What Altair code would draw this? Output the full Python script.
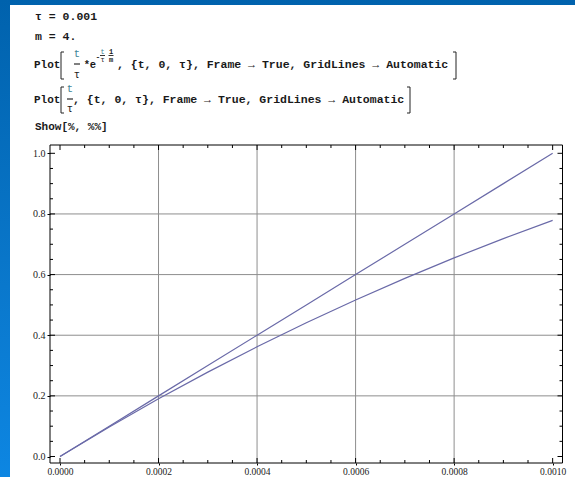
import altair as alt
import pandas as pd

# ---- data ----
t_values = [0.0, 0.0001, 0.0002, 0.0003, 0.0004, 0.0005, 0.0006, 0.0007, 0.0008, 0.0009, 0.0010]
y_linear = [0.0, 0.1, 0.2, 0.3, 0.4, 0.5, 0.6, 0.7, 0.8, 0.9, 1.0]
y_damped = [0.0, 0.0975, 0.1902, 0.2783, 0.3619, 0.4412, 0.5164, 0.5876, 0.6550, 0.7187, 0.7788]

x_major = [0.0, 0.0002, 0.0004, 0.0006, 0.0008, 0.0010]
x_minor = [0.00005, 0.0001, 0.00015, 0.00025, 0.0003, 0.00035, 0.00045, 0.0005, 0.00055,
           0.00065, 0.0007, 0.00075, 0.00085, 0.0009, 0.00095]
y_major = [0.0, 0.2, 0.4, 0.6, 0.8, 1.0]
y_minor = [0.05, 0.1, 0.15, 0.25, 0.3, 0.35, 0.45, 0.5, 0.55, 0.65, 0.7, 0.75, 0.85, 0.9, 0.95]
x_grid = [0.0002, 0.0004, 0.0006, 0.0008]
y_grid = [0.2, 0.4, 0.6, 0.8]

X_DOMAIN = [-0.0000203, 0.00102]
Y_DOMAIN = [-0.0214, 1.0274]

W, H = 512.5, 318
PL, PT = 50, 145

rows = []
for t, a, b in zip(t_values, y_linear, y_damped):
    rows.append({"t": t, "y": a, "s": "linear"})
    rows.append({"t": t, "y": b, "s": "damped"})
df = pd.DataFrame(rows)

xs = alt.Scale(domain=X_DOMAIN, nice=False, zero=False)
ys = alt.Scale(domain=Y_DOMAIN, nice=False, zero=False)
one = alt.Data(values=[{"k": 1}])

LINE_COLOR = "#6a6aa8"
GRID_COLOR = "#8e8e8e"
MONO = "Liberation Mono"
TXT = "#1a1a1a"


def box(x1, x2, y1, y2, **kw):
    return alt.Chart(one).mark_rect(**kw).encode(
        x=alt.value(x1 - PL), x2=alt.value(x2 - PL),
        y=alt.value(y1 - PT), y2=alt.value(y2 - PT))


def seg(x1, y1, x2, y2, color="#222", w=1.0):
    return alt.Chart(one).mark_rule(color=color, strokeWidth=w).encode(
        x=alt.value(x1 - PL), x2=alt.value(x2 - PL),
        y=alt.value(y1 - PT), y2=alt.value(y2 - PT))


def txt(s, x, y, size=11.5, color=TXT, weight="bold", font=MONO, align="left"):
    return alt.Chart(one).mark_text(
        text=s, align=align, baseline="middle", font=font, fontSize=size,
        color=color, fontWeight=weight).encode(
        x=alt.value(x - PL), y=alt.value(y - PT))


layers = []

# blue slide background
grad = alt.LinearGradient(
    gradient="linear",
    stops=[alt.GradientStop(color="#0062ad", offset=0),
           alt.GradientStop(color="#0a78cc", offset=0.6),
           alt.GradientStop(color="#0d86e2", offset=1)],
    x1=0, x2=0, y1=0, y2=1)
layers.append(box(0, 575, 0, 477, color=grad))
# white notebook area
layers.append(box(10, 575, 5, 477, color="#ffffff"))

# gridlines
layers.append(alt.Chart(pd.DataFrame({"g": x_grid})).mark_rule(color=GRID_COLOR, strokeWidth=1)
              .encode(x=alt.X("g:Q", scale=xs)))
layers.append(alt.Chart(pd.DataFrame({"g": y_grid})).mark_rule(color=GRID_COLOR, strokeWidth=1)
              .encode(y=alt.Y("g:Q", scale=ys)))

# curves
layers.append(alt.Chart(df).mark_line(strokeWidth=1.2, color=LINE_COLOR).encode(
    x=alt.X("t:Q", scale=xs,
            axis=alt.Axis(values=x_major, format=".4f", title=None, grid=False, domain=False,
                          tickSize=2, tickColor="#000", labelPadding=1, zindex=1,
                          labelFont="Liberation Serif", labelFontSize=9.5, labelColor="#222")),
    y=alt.Y("y:Q", scale=ys,
            axis=alt.Axis(values=y_major, format=".1f", title=None, grid=False, domain=False,
                          tickSize=3, tickColor="#000", labelPadding=2, zindex=1,
                          labelFont="Liberation Serif", labelFontSize=10, labelColor="#222")),
    detail="s:N"))

# inward frame ticks
def ticks_x(vals, ln):
    d = pd.DataFrame({"v": vals})
    bot = alt.Chart(d).mark_rule(color="#000", strokeWidth=1).encode(
        x=alt.X("v:Q", scale=xs), y=alt.value(H), y2=alt.value(H - ln))
    top = alt.Chart(d).mark_rule(color="#000", strokeWidth=1).encode(
        x=alt.X("v:Q", scale=xs), y=alt.value(0), y2=alt.value(ln))
    return [bot, top]


def ticks_y(vals, ln):
    d = pd.DataFrame({"v": vals})
    lef = alt.Chart(d).mark_rule(color="#000", strokeWidth=1).encode(
        y=alt.Y("v:Q", scale=ys), x=alt.value(0), x2=alt.value(ln))
    rig = alt.Chart(d).mark_rule(color="#000", strokeWidth=1).encode(
        y=alt.Y("v:Q", scale=ys), x=alt.value(W), x2=alt.value(W - ln))
    return [lef, rig]


layers += ticks_x(x_major, 5) + ticks_x(x_minor, 3) + ticks_y(y_major, 5) + ticks_y(y_minor, 3)

# frame
layers.append(alt.Chart(one).mark_rect(filled=False, stroke="#000", strokeWidth=1).encode(
    x=alt.value(0), x2=alt.value(W), y=alt.value(0), y2=alt.value(H)))

# ---- notebook input text ----
TCOL = "#3f8597"
layers.append(txt("τ = 0.001", 35, 17))
layers.append(txt("m = 4.", 35, 37))

# line 3
layers.append(txt("Plot", 34, 65, size=11))
layers += [seg(61, 52, 61, 79), seg(61, 52, 64, 52), seg(61, 79, 64, 79)]
layers.append(txt("t", 77, 54, size=10.5, color=TCOL, weight="normal", align="center"))
layers.append(seg(74, 64, 80, 64, color="#000"))
layers.append(txt("τ", 77, 75, size=10.5, weight="normal", align="center"))
layers.append(txt("*", 87, 65, size=10.5, align="center"))
layers.append(txt("e", 93, 65, size=10.5, align="center"))
layers.append(txt("-", 98, 57, size=8, align="center"))
layers.append(txt("t", 102.5, 51.5, size=7, color=TCOL, weight="normal", align="center"))
layers.append(seg(100, 55.5, 105, 55.5, color="#000", w=0.8))
layers.append(txt("τ", 102.5, 59.5, size=7, weight="normal", align="center"))
layers.append(txt("1", 111, 51.5, size=7, align="center"))
layers.append(seg(108.5, 55.5, 113.5, 55.5, color="#000", w=0.8))
layers.append(txt("m", 111, 59.5, size=7, align="center"))
layers.append(txt(", {t, 0, τ}, Frame → True, GridLines → Automatic", 117, 65))
layers += [seg(456, 52, 456, 79), seg(453, 52, 456, 52), seg(453, 79, 456, 79)]

# line 4
layers.append(txt("Plot", 34, 100, size=11))
layers += [seg(61, 87, 61, 113), seg(61, 87, 64, 87), seg(61, 113, 64, 113)]
layers.append(txt("t", 70, 89, size=10.5, color=TCOL, weight="normal", align="center"))
layers.append(seg(67, 99, 73, 99, color="#000"))
layers.append(txt("τ", 70, 109, size=10.5, weight="normal", align="center"))
layers.append(txt(", {t, 0, τ}, Frame → True, GridLines → Automatic", 73, 100))
layers += [seg(410, 87, 410, 113), seg(407, 87, 410, 87), seg(407, 113, 410, 113)]

# line 5
layers.append(txt("Show[%, %%]", 35, 127, size=11))

chart = alt.layer(*layers).properties(
    width=W, height=H,
    autosize=alt.AutoSizeParams(type="none"),
    padding={"left": PL, "top": PT, "right": 575 - PL - W, "bottom": 477 - PT - H},
    background="#0a72c4",
).configure_view(stroke=None)

chart.save("out.html", embed_options={"renderer": "svg", "actions": False})
